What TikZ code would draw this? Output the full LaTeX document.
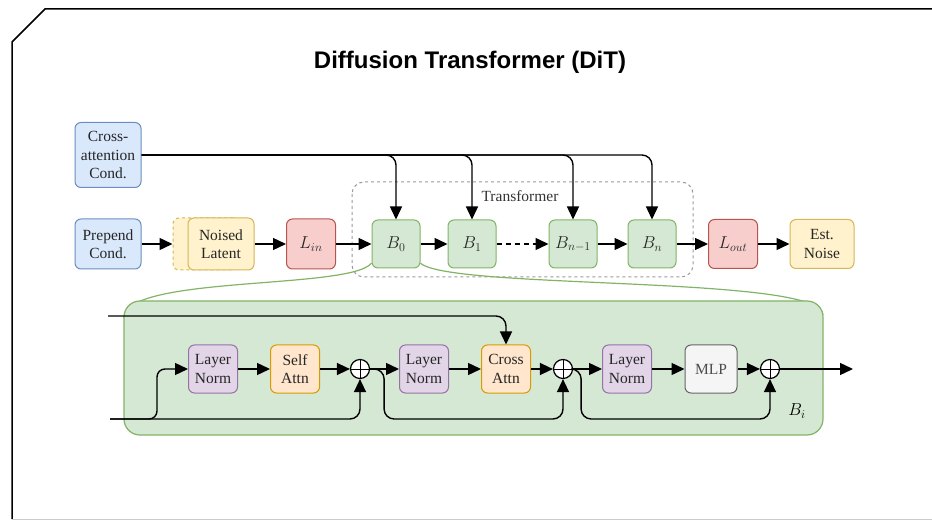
\documentclass[tikz,border=0pt]{standalone}
\usepackage[no-math]{fontspec}
\setmainfont{Liberation Serif}
\newfontfamily\titlefont{Liberation Sans}
\usepackage{amsmath}
\usetikzlibrary{arrows.meta}

\definecolor{bluefill}{HTML}{DAE8FC}
\definecolor{bluedraw}{HTML}{6C8EBF}
\definecolor{yellowfill}{HTML}{FFF2CC}
\definecolor{yellowdraw}{HTML}{D6B656}
\definecolor{redfill}{HTML}{F8CECC}
\definecolor{reddraw}{HTML}{B85450}
\definecolor{greenfill}{HTML}{D5E8D4}
\definecolor{greendraw}{HTML}{82B366}
\definecolor{purplefill}{HTML}{E1D5E7}
\definecolor{purpledraw}{HTML}{9673A6}
\definecolor{orangefill}{HTML}{FFE6CC}
\definecolor{orangedraw}{HTML}{D79B00}
\definecolor{greyfill}{HTML}{F5F5F5}
\definecolor{greydraw}{HTML}{666666}

\begin{document}
\begin{tikzpicture}[x=1pt,y=-1pt,
  box/.style={draw,rounded corners=6pt,line width=1pt,align=center,inner sep=0pt,text=black!85,
    minimum width=49pt,minimum height=48pt,font=\fontsize{15.5}{18.5}\selectfont},
  mbox/.style={box,font=\fontsize{17.5}{20}\selectfont},
  bluebox/.style={fill=bluefill,draw=bluedraw},
  yellowbox/.style={fill=yellowfill,draw=yellowdraw},
  redbox/.style={fill=redfill,draw=reddraw},
  greenbox/.style={fill=greenfill,draw=greendraw},
  purplebox/.style={fill=purplefill,draw=purpledraw},
  orangebox/.style={fill=orangefill,draw=orangedraw},
  greybox/.style={fill=greyfill,draw=greydraw,text=black!70},
  plus/.style={circle,draw,fill=white,line width=1.2pt,minimum size=19pt,inner sep=0pt,
    path picture={\draw[line width=0.9pt] (path picture bounding box.north) -- (path picture bounding box.south)
      (path picture bounding box.west) -- (path picture bounding box.east);}},
  arr/.style={line width=1.4pt,-{Triangle[length=13pt,width=12pt]}},
  line/.style={line width=1.4pt}]
\useasboundingbox (0,0) rectangle (932,521);

% frame and title
\draw[line width=1.5pt] (932,9) -- (45,9) -- (12,42) -- (12,519);
\draw[black!20,line width=1pt] (12,519) -- (932,519);
\node[font=\titlefont\bfseries\fontsize{24}{28}\selectfont] (title) at (470,62) {Diffusion Transformer (DiT)};

% transformer group
\draw[dashed,black!40,line width=1pt,rounded corners=12pt] (352,182) rectangle (693,277);
\node[font=\fontsize{15.5}{18.5}\selectfont,text=black!80] (trlabel) at (520,196) {Transformer};

% top row
\node[box,bluebox,minimum width=66pt,minimum height=65pt] (cross) at (108,155) {Cross-\\attention\\Cond.};
\node[box,bluebox,minimum width=66pt,minimum height=50pt] (prep) at (108,244) {Prepend\\Cond.};
\node[box,yellowbox,dashed,minimum width=66pt,minimum height=52pt] (ghost) at (206,244) {};
\node[box,yellowbox,minimum width=66pt,minimum height=52pt] (noised) at (221,244) {Noised\\Latent};
\node[mbox,redbox,minimum height=50pt] (lin) at (311,244) {$L_{in}$};
\node[mbox,greenbox,minimum width=48pt] (b0) at (396,244) {$B_0$};
\node[mbox,greenbox,minimum width=48pt] (b1) at (472,244) {$B_1$};
\node[mbox,greenbox,minimum width=48pt] (bn1) at (573,244) {$B_{n-1}$};
\node[mbox,greenbox,minimum width=48pt] (bn) at (652,244) {$B_n$};
\node[mbox,redbox,minimum height=49pt] (lout) at (733,244) {$L_{out}$};
\node[box,yellowbox,minimum width=64pt,minimum height=49pt] (est) at (822,244) {Est.\\Noise};

\draw[arr] (prep) -- (ghost);
\draw[arr] (noised) -- (lin);
\draw[arr] (lin) -- (b0);
\draw[arr] (b0) -- (b1);
\draw[arr,dash pattern=on 5pt off 4pt] (b1) -- (bn1);
\draw[arr] (bn1) -- (bn);
\draw[arr] (bn) -- (lout);
\draw[arr] (lout) -- (est);
\foreach \b in {b0,b1,bn1,bn}
  \draw[arr,rounded corners=10pt] (cross) -| (\b);

% expanded block
\draw[greendraw,line width=1.2pt] (b0.218) .. controls (350,290) and (124,275) .. (124,318);
\draw[greendraw,line width=1.2pt] (b0.322) .. controls (450,290) and (823,275) .. (823,315);
\node[draw=greendraw,fill=greenfill,line width=1.2pt,rounded corners=16pt,
  minimum width=699pt,minimum height=134pt] (blk) at (473.5,368) {};

\coordinate (tin) at (108,316);
\coordinate (bin) at (110,419);
\coordinate (out) at (853,369);

\node[box,purplebox] (ln1) at (213,369) {Layer\\Norm};
\node[box,orangebox] (sa) at (295,369) {Self\\Attn};
\node[plus] (p1) at (360,369) {};
\node[box,purplebox] (ln2) at (424,369) {Layer\\Norm};
\node[box,orangebox] (ca) at (506,369) {Cross\\Attn};
\node[plus] (p2) at (563,369) {};
\node[box,purplebox] (ln3) at (627,369) {Layer\\Norm};
\node[box,greybox,minimum width=52pt] (mlp) at (711,369) {MLP};
\node[plus] (p3) at (770,369) {};
\node[font=\fontsize{17.5}{20}\selectfont] (bi) at (797,411) {$B_i$};

\draw[arr] (ln1) -- (sa);
\draw[arr] (sa) -- (p1);
\draw[arr] (p1) -- (ln2);
\draw[arr] (ln2) -- (ca);
\draw[arr] (ca) -- (p2);
\draw[arr] (p2) -- (ln3);
\draw[arr] (ln3) -- (mlp);
\draw[arr] (mlp) -- (p3);
\draw[arr] (p3) -- (out);

\draw[arr,rounded corners=10pt] (tin) -| (ca);
\draw[arr,rounded corners=8pt] (bin) -- ++(47,0) |- (ln1);
\draw[arr,rounded corners=10pt] (bin) -| (p1);
\draw[arr,rounded corners=10pt] (p1.east) -- ++(14,0) -- ++(0,50) -| (p2);
\draw[arr,rounded corners=10pt] (p2.east) -- ++(8,0) -- ++(0,50) -| (p3);
\end{tikzpicture}
\end{document}
